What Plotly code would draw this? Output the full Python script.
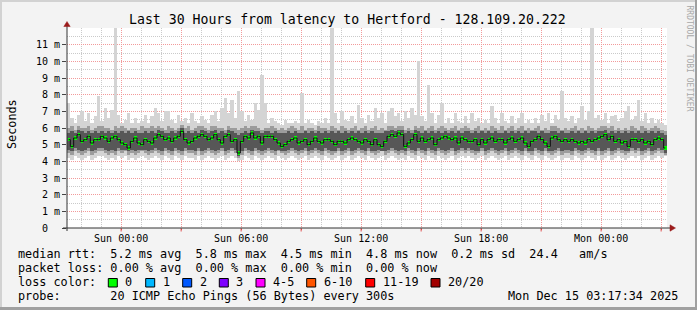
import plotly.graph_objects as go
import pandas as pd

# ---------------- data (values in tenths of a millisecond, one per 10-minute step) ----------------
start = pd.Timestamp("2025-12-13 21:17:34")
end = pd.Timestamp("2025-12-15 03:17:34")

ping_min = [
    42, 41, 43, 42, 41, 42, 43, 41, 42, 43,
    43, 42, 41, 42, 41, 43, 42, 43, 41, 42,
    41, 42, 43, 42, 41, 42, 43, 42, 41, 43,
    42, 41, 43, 42, 41, 43, 42, 42, 41, 43,
    41, 42, 43, 42, 41, 42, 43, 41, 42, 43,
    42, 40, 41, 43, 42, 41, 43, 42, 41, 42,
    43, 42, 41, 43, 42, 41, 42, 43, 42, 41,
    42, 43, 41, 42, 43, 42, 41, 43, 42, 41,
    42, 43, 41, 42, 43, 41, 42, 43, 42, 41,
    43, 42, 41, 42, 43, 41, 42, 43, 42, 41,
    42, 41, 43, 42, 41, 43, 42, 41, 43, 42,
    41, 43, 42, 41, 42, 43, 41, 42, 43, 42,
    43, 42, 41, 42, 43, 41, 42, 43, 42, 41,
    42, 43, 41, 42, 43, 42, 41, 43, 42, 41,
    43, 42, 41, 43, 42, 41, 42, 43, 41, 42,
    42, 41, 43, 42, 41, 42, 43, 42, 41, 43,
    41, 42, 43, 41, 42, 43, 42, 41, 42, 43,
    42, 43, 41, 42, 43, 41, 42, 43, 42, 43,
]
ping_q1 = [
    45, 44, 46, 45, 44, 45, 46, 44, 45, 46,
    46, 45, 44, 45, 44, 46, 45, 46, 44, 45,
    44, 45, 46, 45, 44, 45, 46, 45, 44, 46,
    45, 44, 46, 45, 44, 46, 45, 45, 44, 46,
    44, 45, 46, 45, 44, 45, 46, 44, 45, 46,
    45, 42, 44, 46, 45, 44, 46, 45, 44, 45,
    46, 45, 44, 46, 45, 44, 45, 46, 45, 44,
    45, 46, 44, 45, 46, 45, 44, 46, 45, 44,
    45, 46, 44, 45, 46, 44, 45, 46, 45, 44,
    46, 45, 44, 45, 46, 44, 45, 46, 45, 44,
    45, 44, 46, 45, 44, 46, 45, 44, 46, 45,
    44, 46, 45, 44, 45, 46, 44, 45, 46, 45,
    46, 45, 44, 45, 46, 44, 45, 46, 45, 44,
    45, 46, 44, 45, 46, 45, 44, 46, 45, 44,
    46, 45, 44, 46, 45, 44, 45, 46, 44, 45,
    45, 44, 46, 45, 44, 45, 46, 45, 44, 46,
    44, 45, 46, 44, 45, 46, 45, 44, 45, 46,
    45, 46, 44, 45, 46, 44, 45, 46, 45, 44,
]
ping_q2 = [
    47, 46, 48, 47, 46, 47, 48, 46, 47, 48,
    48, 47, 46, 47, 46, 48, 47, 47, 46, 47,
    46, 47, 47, 47, 46, 47, 48, 47, 46, 48,
    47, 46, 48, 47, 46, 48, 47, 47, 46, 48,
    46, 47, 48, 47, 46, 47, 48, 46, 47, 48,
    47, 43, 46, 48, 47, 46, 48, 47, 46, 47,
    48, 47, 46, 47, 46, 46, 47, 48, 47, 46,
    47, 48, 46, 47, 48, 47, 46, 48, 47, 46,
    46, 48, 46, 47, 48, 46, 47, 48, 47, 46,
    48, 46, 46, 47, 46, 46, 47, 48, 47, 46,
    47, 46, 48, 47, 46, 48, 47, 46, 48, 47,
    46, 48, 47, 46, 47, 48, 46, 47, 48, 47,
    48, 47, 46, 46, 48, 46, 47, 48, 47, 46,
    47, 48, 46, 47, 48, 47, 46, 48, 46, 46,
    48, 47, 46, 48, 46, 46, 47, 48, 46, 47,
    47, 46, 48, 47, 46, 47, 48, 47, 46, 48,
    46, 47, 48, 46, 47, 48, 47, 46, 46, 48,
    47, 48, 46, 47, 48, 46, 47, 48, 47, 45,
]
ping_med = [
    53, 49, 54, 56, 52, 53, 55, 51, 53, 53,
    55, 54, 52, 54, 55, 53, 51, 50, 48, 52,
    54, 51, 50, 53, 52, 51, 54, 56, 55, 53,
    54, 52, 54, 55, 58, 53, 51, 52, 54, 55,
    56, 55, 53, 54, 56, 53, 51, 55, 56, 52,
    53, 45, 52, 55, 54, 57, 54, 55, 51, 55,
    55, 55, 53, 51, 49, 50, 52, 53, 54, 51,
    52, 53, 50, 52, 54, 52, 51, 53, 53, 52,
    50, 52, 52, 51, 53, 54, 53, 52, 51, 53,
    52, 50, 53, 50, 49, 52, 55, 56, 55, 57,
    56, 49, 51, 53, 56, 52, 54, 52, 53, 54,
    50, 53, 54, 55, 54, 53, 54, 51, 54, 53,
    52, 52, 53, 50, 53, 51, 53, 54, 52, 53,
    53, 51, 53, 54, 52, 53, 54, 51, 49, 52,
    53, 55, 53, 51, 49, 54, 55, 53, 52, 53,
    52, 53, 52, 51, 52, 51, 53, 52, 53, 54,
    55, 56, 53, 55, 52, 53, 51, 52, 49, 53,
    53, 52, 53, 51, 52, 50, 53, 54, 53, 48,
]
ping_q3 = [
    57, 58, 57, 59, 58, 57, 58, 57, 58, 57,
    58, 57, 58, 57, 58, 57, 58, 57, 58, 57,
    58, 57, 57, 58, 57, 58, 57, 59, 58, 57,
    57, 58, 57, 58, 60, 57, 58, 57, 58, 57,
    59, 58, 57, 58, 59, 57, 58, 57, 59, 58,
    57, 56, 57, 58, 57, 59, 58, 58, 57, 58,
    58, 57, 58, 57, 57, 57, 58, 57, 58, 57,
    57, 58, 57, 58, 57, 58, 57, 58, 57, 58,
    57, 58, 57, 58, 57, 58, 57, 58, 57, 58,
    57, 58, 57, 57, 57, 58, 58, 59, 58, 59,
    59, 57, 58, 57, 59, 58, 57, 58, 57, 58,
    57, 58, 57, 58, 57, 58, 57, 58, 57, 58,
    58, 57, 58, 57, 58, 57, 58, 57, 58, 57,
    57, 58, 57, 58, 57, 58, 57, 58, 57, 58,
    58, 57, 58, 57, 57, 58, 58, 57, 58, 57,
    57, 58, 57, 58, 57, 58, 57, 58, 57, 58,
    58, 59, 57, 58, 57, 58, 57, 58, 57, 58,
    57, 58, 57, 58, 57, 58, 57, 58, 57, 56,
]
ping_q4 = [
    60, 61, 59, 61, 60, 60, 61, 59, 60, 61,
    61, 60, 60, 59, 61, 60, 61, 60, 59, 60,
    60, 59, 61, 60, 60, 61, 60, 61, 60, 59,
    61, 60, 59, 60, 62, 60, 61, 59, 60, 61,
    61, 60, 59, 61, 61, 60, 60, 59, 61, 60,
    60, 59, 60, 61, 60, 61, 61, 60, 59, 60,
    60, 61, 60, 59, 60, 59, 60, 61, 60, 59,
    61, 59, 60, 60, 59, 61, 60, 60, 59, 61,
    60, 59, 61, 60, 59, 60, 61, 59, 60, 61,
    59, 60, 61, 59, 60, 59, 61, 61, 60, 61,
    61, 59, 60, 59, 61, 60, 61, 59, 60, 61,
    59, 60, 61, 60, 59, 60, 61, 59, 60, 61,
    60, 59, 60, 61, 59, 60, 59, 61, 60, 59,
    61, 59, 60, 61, 59, 60, 61, 59, 60, 59,
    60, 61, 59, 60, 59, 61, 61, 60, 59, 60,
    59, 60, 61, 59, 60, 59, 61, 60, 59, 60,
    61, 61, 60, 61, 59, 60, 59, 60, 59, 61,
    60, 59, 61, 60, 59, 60, 61, 60, 59, 58,
]
ping_max = [
    75, 66, 63, 68, 70, 64, 69, 63, 67, 79,
    64, 72, 66, 71, 125, 68, 63, 65, 69, 63,
    66, 63, 64, 68, 63, 67, 72, 69, 64, 70,
    70, 65, 63, 68, 64, 66, 63, 69, 64, 63,
    67, 65, 63, 68, 70, 64, 72, 78, 69, 77,
    66, 82, 70, 64, 68, 65, 75, 71, 92, 75,
    63, 66, 64, 63, 62, 65, 63, 63, 64, 63,
    81, 63, 65, 63, 62, 64, 63, 66, 63, 125,
    69, 63, 70, 65, 64, 67, 63, 74, 66, 63,
    68, 64, 72, 66, 69, 63, 70, 72, 67, 69,
    64, 70, 66, 72, 68, 100, 67, 64, 86, 69,
    63, 68, 75, 63, 66, 63, 69, 64, 63, 67,
    63, 69, 64, 66, 63, 65, 63, 73, 66, 63,
    69, 64, 63, 67, 63, 66, 69, 63, 65, 63,
    66, 63, 68, 64, 69, 63, 68, 65, 82, 66,
    64, 67, 63, 66, 73, 65, 70, 125, 66, 68,
    65, 69, 63, 67, 68, 64, 66, 70, 73, 65,
    67, 77, 64, 69, 63, 66, 63, 65, 63, 62,
]

y_tick_vals = list(range(0, 12))
y_tick_text = ["0\u00a0\u00a0"] + [f"{v}\u00a0m" for v in range(1, 12)]
x_tick_vals = [
    "2025-12-14 00:00", "2025-12-14 03:00", "2025-12-14 06:00", "2025-12-14 09:00",
    "2025-12-14 12:00", "2025-12-14 15:00", "2025-12-14 18:00", "2025-12-14 21:00",
    "2025-12-15 00:00", "2025-12-15 03:00",
]
x_tick_text = ["Sun 00:00", "", "Sun 06:00", "", "Sun 12:00", "", "Sun 18:00", "", "Mon 00:00", ""]

title_text = "Last 30 Hours from latency to Hertford - 128.109.20.222"
legend_lines = [
    "median rtt:  5.2 ms avg  5.8 ms max  4.5 ms min  4.8 ms now  0.2 ms sd  24.4   am/s",
    "packet loss: 0.00 % avg  0.00 % max  0.00 % min  0.00 % now",
    "loss color:",
    "probe:       20 ICMP Echo Pings (56 Bytes) every 300s",
]
date_text = "Mon Dec 15 03:17:34 2025"
loss_labels = ["0", "1", "2", "3", "4-5", "6-10", "11-19", "20/20"]
loss_colors = ["#00ff00", "#00b8ff", "#0059ff", "#7e00ff", "#ff00ff", "#ff5500", "#ff0000", "#a10000"]

# ---------------- geometry helpers ----------------
W, H = 697, 310
PL, PR, PT, PB = 67, 667, 28, 228  # plot area in pixels


def px(xp):
    return (xp - PL) / (PR - PL)


def py(yp):
    return (PB - yp) / (PB - PT)


MONO = "DejaVu Sans Mono"
n = len(ping_med)
times = pd.date_range(start + pd.Timedelta(minutes=5), periods=n, freq="10min")


def ms(a):
    return [v / 10 for v in a]


def band(lo, hi, color):
    return go.Bar(
        x=times, base=ms(lo), y=[(h - l) / 10 for l, h in zip(lo, hi)],
        width=640000, marker=dict(color=color, line=dict(width=0)),
        hoverinfo="skip", showlegend=False,
    )


fig = go.Figure()
fig.add_trace(band(ping_min, ping_max, "#d4d4d4"))
fig.add_trace(band(ping_q1, ping_q4, "#9c9c9c"))
fig.add_trace(band(ping_q2, ping_q3, "#575757"))
fig.add_trace(go.Scatter(
    x=times, y=ms(ping_med), mode="lines", line=dict(color="#101010", width=1, shape="hvh"),
    hoverinfo="skip", showlegend=False,
))
fig.add_trace(go.Bar(
    x=times, base=[v / 10 - 0.1 for v in ping_med], y=[0.2] * n, width=420000,
    marker=dict(color="#00ff00", line=dict(width=0)), hoverinfo="skip", showlegend=False,
))

RED_GRID = "#f29a9a"
GRAY_GRID = "#cacaca"

fig.update_layout(
    width=W, height=H,
    margin=dict(l=PL, r=W - PR, t=PT, b=H - PB, pad=0),
    paper_bgcolor="#f3f3f3", plot_bgcolor="#ffffff",
    barmode="overlay", bargap=0, showlegend=False,
    font=dict(family=MONO, size=10, color="#000000"),
    xaxis=dict(
        type="date", range=[start, end], tickmode="array",
        tickvals=x_tick_vals, ticktext=x_tick_text,
        ticks="outside", ticklen=1, tickcolor="#e05050", tickwidth=1,
        tickfont=dict(family=MONO, size=10, color="#000000"),
        showgrid=True, gridcolor=RED_GRID, griddash="1px,1px", gridwidth=1,
        minor=dict(dtick=3600000, tick0="2025-12-14 00:00", showgrid=True,
                   gridcolor=GRAY_GRID, griddash="1px,1px", ticks=""),
        showline=False, zeroline=False, fixedrange=True,
    ),
    yaxis=dict(
        range=[0, 12], tickmode="array", tickvals=y_tick_vals, ticktext=y_tick_text,
        ticks="outside", ticklen=4, tickcolor="#444444", tickwidth=1,
        tickfont=dict(family=MONO, size=10, color="#000000"),
        showgrid=True, gridcolor=RED_GRID, griddash="1px,1px", gridwidth=1,
        minor=dict(dtick=0.5, showgrid=True, gridcolor=GRAY_GRID, griddash="1px,1px", ticks=""),
        showline=False, zeroline=False, fixedrange=True,
    ),
)

shapes = []
# frame
shapes.append(dict(type="rect", xref="paper", yref="paper", x0=px(0), x1=px(W), y0=py(0), y1=py(2),
                   fillcolor="#d2d2d2", line=dict(width=0), layer="above"))
shapes.append(dict(type="rect", xref="paper", yref="paper", x0=px(0), x1=px(2), y0=py(0), y1=py(H),
                   fillcolor="#d2d2d2", line=dict(width=0), layer="above"))
shapes.append(dict(type="rect", xref="paper", yref="paper", x0=px(0), x1=px(W), y0=py(H - 3), y1=py(H),
                   fillcolor="#a0a0a0", line=dict(width=0), layer="above"))
shapes.append(dict(type="rect", xref="paper", yref="paper", x0=px(W - 2), x1=px(W), y0=py(0), y1=py(H),
                   fillcolor="#a0a0a0", line=dict(width=0), layer="above"))
# red x tick marks below the axis, at the major (3 h) positions
for tv in x_tick_vals:
    shapes.append(dict(type="line", xref="x", yref="paper", x0=tv, x1=tv, y0=py(228), y1=py(231.5),
                       line=dict(color="#e05050", width=1), layer="above"))
# axes
shapes.append(dict(type="line", xref="paper", yref="paper", x0=px(67), x1=px(67), y0=py(231), y1=py(24),
                   line=dict(color="#333333", width=1), layer="above"))
shapes.append(dict(type="line", xref="paper", yref="paper", x0=px(63), x1=px(671), y0=py(228), y1=py(228),
                   line=dict(color="#333333", width=1), layer="above"))


def tri(points, color):
    path = "M " + " L ".join(f"{px(a)},{py(b)}" for a, b in points) + " Z"
    return dict(type="path", xref="paper", yref="paper", path=path, fillcolor=color,
                line=dict(color=color, width=0.5), layer="above")


shapes.append(tri([(67, 21.5), (63.8, 26.5), (70.2, 26.5)], "#9b1b1b"))
shapes.append(tri([(675.5, 228), (670, 224.8), (670, 231.2)], "#9b1b1b"))

# loss colour boxes
box_left = [108.3, 145.7, 182.7, 219.3, 256, 306.7, 365.7, 431]
label_left = [123.3, 161, 197.7, 234.3, 271, 321.7, 380.7, 445.7]
for bx, col in zip(box_left, loss_colors):
    shapes.append(dict(type="rect", xref="paper", yref="paper", x0=px(bx), x1=px(bx + 9),
                       y0=py(278.5), y1=py(287), fillcolor=col, line=dict(color="#000000", width=1),
                       layer="above"))
fig.update_layout(shapes=shapes)

ann = []


def text(x, y, s, size, xanchor="left", color="#000000", angle=0, family=MONO):
    ann.append(dict(xref="paper", yref="paper", x=px(x), y=py(y), text=s.replace(" ", "\u00a0"),
                    showarrow=False, xanchor=xanchor, yanchor="middle", textangle=angle,
                    font=dict(family=family, size=size, color=color)))


text(347.5, 19.3, title_text, 13.2, xanchor="center")
text(12, 124, "Seconds", 11.8, xanchor="center", angle=-90)
text(689, 58.5, "RRDTOOL / TOBI OETIKER", 8, xanchor="center", color="#a8a8a8", angle=90)
for i, line in enumerate(legend_lines):
    text(16, 254.3 + 14 * i, line, 11.8)
for lx, lab in zip(label_left, loss_labels):
    text(lx, 282.3, lab, 11.8)
text(680, 296.3, date_text, 11.8, xanchor="right")
fig.update_layout(annotations=ann)

fig.write_html("out.html")
